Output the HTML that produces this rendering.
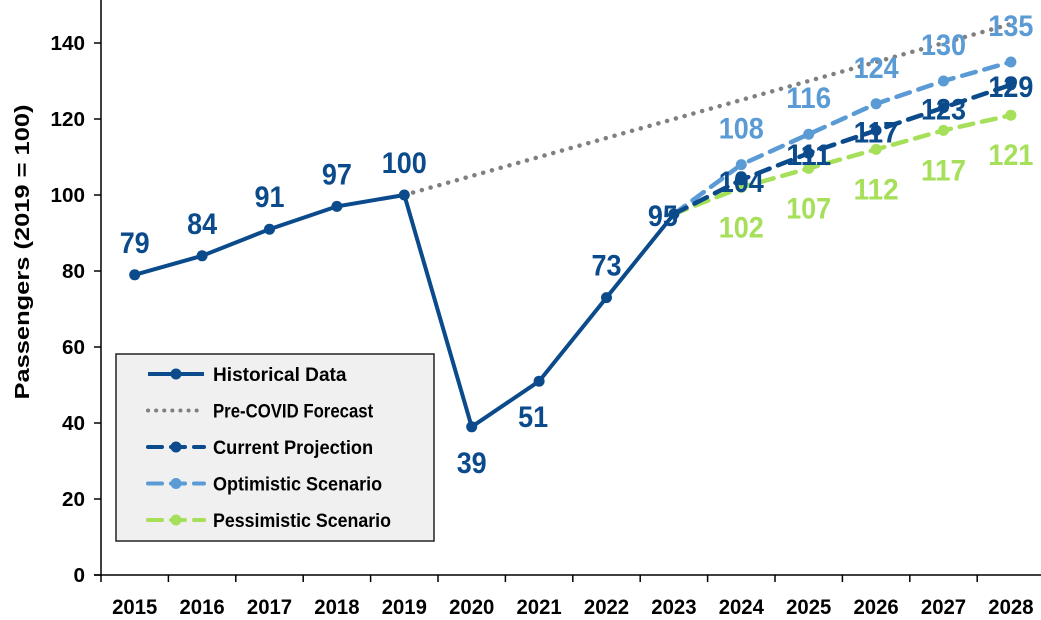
<!DOCTYPE html>
<html><head><meta charset="utf-8"><style>
body{margin:0;background:#fff}
svg{display:block}
text{font-family:"Liberation Sans Narrow","Liberation Sans",sans-serif;font-weight:bold}
</style></head><body>
<svg id="c" width="1041" height="620" xmlns="http://www.w3.org/2000/svg"></svg>
<script>
const years=["2015","2016","2017","2018","2019","2020","2021","2022","2023","2024","2025","2026","2027","2028"];
const historical=[79,84,91,97,100,39,51,73,95];
const preCovid=[100,105,110,115,120,125,130,135,140,145];
const current=[95,104,111,117,123,129];
const optimistic=[95,108,116,124,130,135];
const pessimistic=[95,102,107,112,117,121];
const yTicks=[0,20,40,60,80,100,120,140];

const svg=document.getElementById('c');
const NS="http://www.w3.org/2000/svg";
const X0=101,STEP=67.4;
const x=i=>X0+STEP/2+i*STEP;
const y=v=>575-v*3.8;
function el(tag,attrs,parent){const e=document.createElementNS(NS,tag);for(const k in attrs)e.setAttribute(k,attrs[k]);(parent||svg).appendChild(e);return e;}
function txt(s,xx,yy,size,fill,anchor,parent,cw){const a={x:xx,y:yy,'font-size':size,fill:fill,'text-anchor':anchor||'middle'};if(cw){a.textLength=s.length*cw;a.lengthAdjust='spacingAndGlyphs';}const t=el('text',a,parent);t.textContent=s;return t;}

const ax=el('g',{});


el('line',{x1:X0,y1:0,x2:X0,y2:576,stroke:'#000','stroke-width':1.5},ax);
el('line',{x1:94,y1:575,x2:1041,y2:575,stroke:'#000','stroke-width':1.5},ax);
yTicks.forEach(v=>{
  el('line',{x1:94,y1:y(v),x2:X0,y2:y(v),stroke:'#000','stroke-width':1.5},ax);
  const t=txt(String(v),85,y(v)+7,20,'#000','end',ax,11.5);
  
  
});
years.forEach((yr,i)=>{
  el('line',{x1:X0+i*STEP,y1:575,x2:X0+i*STEP,y2:582,stroke:'#000','stroke-width':1.5},ax);
  const t=txt(yr,x(i),614,21,'#000','middle',ax,11.3);
  
  
});
const yt=el('text',{x:0,y:0,'font-size':20,fill:'#000','text-anchor':'middle',textLength:295,lengthAdjust:'spacingAndGlyphs'});
yt.textContent='Passengers (2019 = 100)';
yt.setAttribute('transform','translate(29,252) rotate(-90)');



function series(vals,off,color,dash,width,marker,name){
  const g=el('g',{});
  
  
  const pts=vals.map((v,i)=>x(i+off)+','+y(v)).join(' ');
  const a={points:pts,fill:'none',stroke:color,'stroke-width':width};
  if(dash){a['stroke-dasharray']=dash;a['stroke-linecap']='round';}
  el('polyline',a,g);
  if(marker)vals.forEach((v,i)=>{if(off>0&&i==0)return;const c=el('circle',{cx:x(i+off),cy:y(v),r:5.5,fill:color},g);});
  return g;
}
series(preCovid,4,'#808080','0.1 9',4.5,false,'pre-covid-line');
series(pessimistic,8,'#a6e05a','14 9',4.5,true,'pessimistic-line');
series(optimistic,8,'#5b9bd5','14 9',4.5,true,'optimistic-line');
series(current,8,'#0b4a8b','14 9',4.5,true,'current-line');
series(historical,0,'#0b4a8b',null,4,true,'historical-line');

const histOff=[-1,-1,-1,-1,-1,1,1,-1,0];
historical.forEach((v,i)=>{
  let yy=histOff[i]<0?y(v)-22:y(v)+46, xx=x(i);
  if(i==8){yy=y(v)+12;xx=x(i)-11;}
  if(i==6){xx=x(i)-6;}
  const t=txt(String(v),xx,yy,30,'#0b4a8b','middle',null,15);
  
  
});
function lbl(vals,dy,color,name){vals.forEach((v,i)=>{if(i==0)return;const t=txt(String(v),x(i+8),y(v)+dy,30,color,'middle',null,15);});}
lbl(optimistic,-26,'#5b9bd5','optimistic-value-label');
lbl(pessimistic,50,'#a6e05a','pessimistic-value-label');
lbl(current,12,'#0b4a8b','current-value-label');

const lg=el('g',{});


el('rect',{x:116,y:354,width:318,height:187,fill:'#f0f0f0',stroke:'#222','stroke-width':1.5},lg);
const legNames=['Historical Data','Pre-COVID Forecast','Current Projection','Optimistic Scenario','Pessimistic Scenario'];
const legCol=['#0b4a8b','#808080','#0b4a8b','#5b9bd5','#a6e05a'];
const legDash=[null,'0.1 8','14 9','14 9','14 9'];
legNames.forEach((n,i)=>{
  const g=el('g',{},lg);
  
  
  const yy=374+i*36.5;
  const a={x1:148,y1:yy,x2:204,y2:yy,stroke:legCol[i],'stroke-width':4};
  if(legDash[i]){a['stroke-dasharray']=legDash[i];a['stroke-linecap']='round';}
  el('line',a,g);
  if(i!=1)el('circle',{cx:176,cy:yy,r:5.5,fill:legCol[i]},g);
  txt(n,213,yy+7,19,'#000','start',g,8.9);
});
</script>
</body></html>
